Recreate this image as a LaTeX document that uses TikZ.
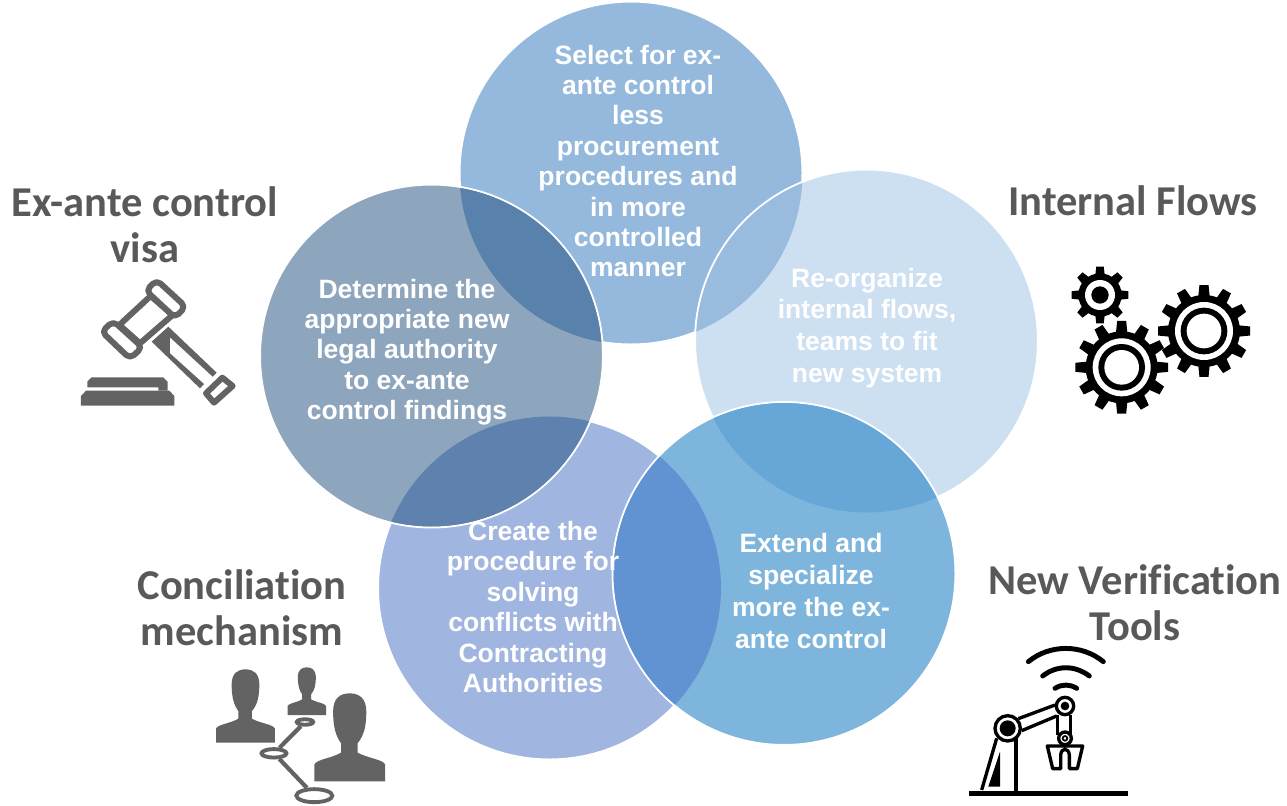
\documentclass[tikz,border=0pt]{standalone}
\usepackage{fontspec}
\setmainfont{Liberation Sans}
\newfontfamily\headfont[Ligatures=NoCommon]{Carlito}
\usetikzlibrary{shapes.geometric}
\definecolor{topblue}{HTML}{95B9DC}
\definecolor{rightblue}{HTML}{CDE0F2}
\definecolor{lowblue}{HTML}{7EB5DD}
\definecolor{lilacblue}{HTML}{A0B6E0}
\definecolor{slateblue}{HTML}{8EA5BE}
\definecolor{lenstopleft}{HTML}{5881AB}
\definecolor{lenstopright}{HTML}{99BCDE}
\definecolor{lensrightlow}{HTML}{66A7D8}
\definecolor{lenslowlilac}{HTML}{6192D1}
\definecolor{lenslilacleft}{HTML}{5F81AE}
\definecolor{icongrey}{HTML}{636363}
\definecolor{headgrey}{HTML}{595959}
\tikzset{
    petal/.style={circle,minimum size=6.86cm,inner sep=0pt,outer sep=0pt,draw=white,line width=1.1pt},
    petaltext/.style={white,align=center,font=\fontsize{15.1}{17.3}\selectfont\bfseries},
    headtext/.style={headgrey,align=center,font=\fontsize{24.2}{26}\selectfont\headfont\bfseries},
    linkdot/.style={ellipse,draw=icongrey,fill=white,inner sep=0pt,line width=2.2pt},
    gavelline/.style={draw=icongrey,fill=white,line width=3.4pt,line join=round},
    robotline/.style={draw=black,line width=1.9pt,fill=white},
}
% overlap of two petals: lower one, upper one, colour
\newcommand{\lens}[3]{
    \begin{scope}
        \clip (#2) circle (3.41cm);
        \fill[#3] (#1) circle (3.43cm);
    \end{scope}
}
% gear: centre, tooth radius, root radius, teeth count, tooth half width
\newcommand{\gearicon}[5]{
    \fill[black] (#1) circle[radius=#3];
    \foreach \a in {1,...,#4} {
        \fill[black,shift={(#1)},rotate=\a*360/#4] (#3-4,-#5) -- (#2,-0.8*#5) -- (#2,0.8*#5) -- (#3-4,#5) -- cycle;
    }
}
% bust: left edge, top, scale
\newcommand{\bust}[3]{
    \begin{scope}[shift={(#1,#2)},scale=#3]
        \fill[icongrey] (0,220) -- (0,178) .. controls (5,165) and (45,162) .. (67,148)
            -- (67,125) .. controls (52,105) and (47,80) .. (47,45)
            .. controls (47,12) and (65,0) .. (88,0) .. controls (112,0) and (130,12) .. (130,45)
            .. controls (130,80) and (125,105) .. (108,125) -- (108,148)
            .. controls (132,162) and (172,165) .. (177,178) -- (177,220) -- cycle;
    \end{scope}
}
\begin{document}
\begin{tikzpicture}[x=0.02cm,y=-0.02cm]
    \useasboundingbox (0,0) rectangle (1287,805);
    % Petals
    \node[petal,fill=topblue] (select) at (631,173) {};
    \node[petal,fill=rightblue] (flows) at (866.5,341) {};
    \node[petal,fill=lilacblue] (create) at (549.5,588) {};
    \node[petal,fill=lowblue] (extend) at (784,573.5) {};
    \node[petal,fill=slateblue] (legal) at (431.5,356) {};
    % Overlaps
    \lens{select}{legal}{lenstopleft}
    \lens{select}{flows}{lenstopright}
    \lens{flows}{extend}{lensrightlow}
    \lens{create}{extend}{lenslowlilac}
    \lens{create}{legal}{lenslilacleft}
    % Petal texts
    \node[petaltext] (selecttext) at (638,161) {Select for ex-\\ante control\\less\\procurement\\procedures and\\in more\\controlled\\manner};
    \node[petaltext,font=\fontsize{15.1}{18.1}\selectfont\bfseries] (flowstext) at (867,328) {Re-organize\\internal flows,\\teams to fit\\new system};
    \node[petaltext,font=\fontsize{15.1}{18.1}\selectfont\bfseries] (extendtext) at (811,591) {Extend and\\specialize\\more the ex-\\ante control};
    \node[petaltext] (createtext) at (533,607) {Create the\\procedure for\\solving\\conflicts with\\Contracting\\Authorities};
    \node[petaltext] (legaltext) at (407,352) {Determine the\\appropriate new\\legal authority\\to ex-ante\\control findings};
    % Headings
    \node[headtext] (visahead) at (145,225) {Ex-ante control\\visa};
    \node[headtext] (flowshead) at (1133,201) {Internal Flows};
    \node[headtext] (conchead) at (242,608) {Conciliation\\mechanism};
    \node[headtext] (toolshead) at (1135,603) {New Verification\\Tools};
    % Gavel
    \begin{scope}[shift={(60,260)},scale=0.3333]
        \draw[gavelline] (178,195) -- (272,108) -- (338,165) -- (240,250) -- cycle;
        \draw[gavelline,rounded corners=3pt] (125,215) -- (160,183) -- (247,262) -- (210,296) -- cycle;
        \draw[gavelline,rounded corners=3pt] (258,92) -- (290,60) -- (377,140) -- (345,173) -- cycle;
        \fill[icongrey] (275,245) -- (325,200) -- (470,338) -- (458,350) -- (330,232) -- (330,280) -- (432,372) -- (420,385) -- cycle;
        \draw[gavelline] (438,400) -- (487,353) -- (518,378) -- (462,428) -- cycle;
        \fill[icongrey] (82,382) -- (82,365) -- (95,352) -- (310,352) -- (323,365) -- (323,392) -- (295,392) -- (295,382) -- cycle;
        \fill[icongrey] (63,437) -- (63,408) -- (78,392) -- (328,392) -- (343,408) -- (343,437) -- cycle;
    \end{scope}
    % Gears
    \begin{scope}[shift={(1060,250)},scale=0.3333]
        \gearicon{120,135}{85}{65}{8}{14}
        \fill[white] (120,135) circle[radius=45];
        \fill[black] (120,135) circle[radius=26];
        \gearicon{185,352}{139}{108}{12}{17}
        \fill[white] (185,352) circle[radius=87];
        \fill[black] (185,352) circle[radius=70];
        \fill[white] (185,352) circle[radius=52];
        \gearicon{432,243}{138}{108}{12}{17}
        \fill[white] (432,243) circle[radius=87];
        \fill[black] (432,243) circle[radius=70];
        \fill[white] (432,243) circle[radius=52];
    \end{scope}
    % People
    \begin{scope}[shift={(200,660)},scale=0.3333]
        \node[linkdot,minimum width=0.33cm,minimum height=0.11cm] (dotone) at (315,186) {};
        \node[linkdot,minimum width=0.5cm,minimum height=0.17cm] (dottwo) at (222,280) {};
        \node[linkdot,minimum width=0.72cm,minimum height=0.26cm] (dotthree) at (343,407) {};
        \draw[icongrey,line width=2.4pt] (dotone) -- (dottwo);
        \draw[icongrey,line width=2.4pt] (dottwo) -- (dotthree);
        \bust{48}{28}{1}
        \bust{263}{22}{0.65}
        \bust{343}{100}{1.2}
    \end{scope}
    % Robot
    \begin{scope}[shift={(960,640)},scale=0.3333]
        \draw[black,line width=3pt] (28,460) -- (503,460);
        \draw[black,line width=1.9pt] (168,285) -- (168,455);
        \draw[black,line width=1.9pt] (110,295) -- (65,450);
        \fill[black] (120,335) -- (120,440) -- (85,440) -- cycle;
        \draw[black,line width=1.9pt] (175,236) -- (285,195);
        \draw[black,line width=1.9pt] (185,272) -- (290,228);
        \draw[black,line width=1.9pt] (292,225) -- (292,285);
        \draw[black,line width=1.9pt] (332,225) -- (332,285);
        \draw[robotline] (143,265) circle[radius=38];
        \fill[black] (143,265) circle[radius=24];
        \draw[robotline] (315,198) circle[radius=26];
        \fill[black] (315,198) circle[radius=13];
        \draw[robotline] (315,295) circle[radius=19];
        \draw[black,line width=1pt] (315,295) circle[radius=7];
        \draw[black,line width=1.9pt,line join=round] (262,318) -- (368,318) -- (352,386) -- (328,386) -- (328,345) .. controls (326,322) and (304,322) .. (302,345) -- (302,386) -- (278,386) -- cycle;
        \draw[black,line width=2.8pt,line cap=round] (205,65) .. controls (270,12) and (365,12) .. (430,65);
        \draw[black,line width=2.8pt,line cap=round] (248,108) .. controls (290,75) and (345,75) .. (388,108);
        \draw[black,line width=2.8pt,line cap=round] (285,145) .. controls (305,132) and (330,132) .. (350,145);
    \end{scope}
\end{tikzpicture}
\end{document}
